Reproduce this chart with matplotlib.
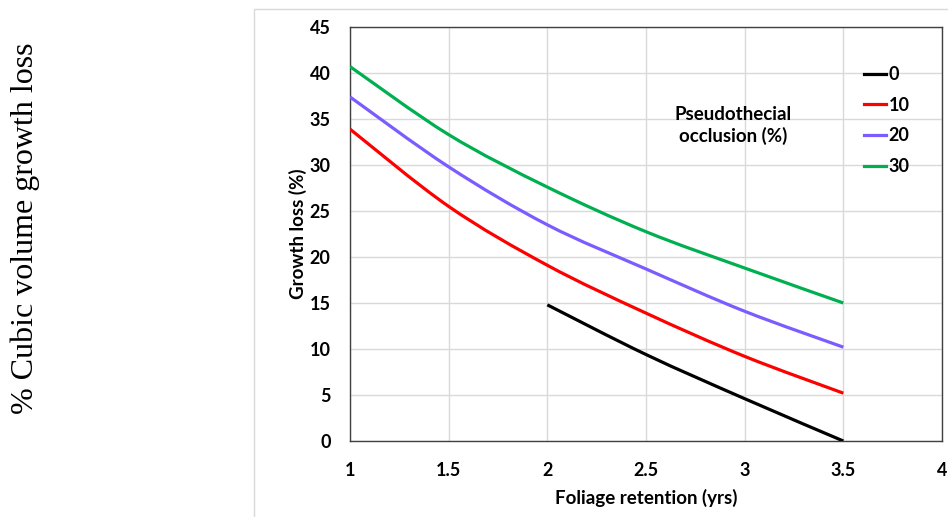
import numpy as np
import matplotlib
matplotlib.use("Agg")
import matplotlib.pyplot as plt
from matplotlib.path import Path
from matplotlib.patches import PathPatch, Rectangle
from matplotlib.lines import Line2D

# Foliage retention (years) and growth loss (%) by pseudothecial occlusion level
retention = [1.0, 1.5, 2.0, 2.5, 3.0, 3.5]
retention_0 = [2.0, 2.5, 3.0, 3.5]
loss_0 = [14.8, 9.4, 4.6, 0.0]
loss_10 = [33.9, 25.5, 19.1, 13.9, 9.2, 5.2]
loss_20 = [37.4, 29.8, 23.5, 18.7, 14.1, 10.2]
loss_30 = [40.7, 33.3, 27.6, 22.75, 18.8, 15.0]

series = [
    ("0", retention_0, loss_0, "#000000"),
    ("10", retention, loss_10, "#ff0000"),
    ("20", retention, loss_20, "#7b5cff"),
    ("30", retention, loss_30, "#00b050"),
]

x_ticks = [1, 1.5, 2, 2.5, 3, 3.5, 4]
x_ticklabels = ["1", "1.5", "2", "2.5", "3", "3.5", "4"]
y_ticks = list(range(0, 50, 5))

SANS = "Lato"
TICK_SIZE = 13
LABEL_SIZE = 13.5


def smooth_path(xs, ys):
    """Cubic Bezier path through the points (Catmull-Rom style smoothing)."""
    pts = np.column_stack([xs, ys]).astype(float)
    n = len(pts)
    verts = [pts[0]]
    codes = [Path.MOVETO]
    for i in range(n - 1):
        p0 = pts[i - 1] if i > 0 else pts[i]
        p1 = pts[i]
        p2 = pts[i + 1]
        p3 = pts[i + 2] if i + 2 < n else pts[i + 1]
        c1 = p1 + (p2 - p0) / 6.0
        c2 = p2 - (p3 - p1) / 6.0
        verts += [c1, c2, p2]
        codes += [Path.CURVE4] * 3
    return Path(verts, codes)


fig = plt.figure(figsize=(9.48, 5.17), dpi=100)
fig.patch.set_facecolor("white")

# light frame around the chart area
frame = Rectangle((254 / 948, -0.1), 1.0, 1 - 9 / 517 + 0.1,
                  transform=fig.transFigure, fill=False,
                  edgecolor="#d9d9d9", linewidth=1.0)
fig.add_artist(frame)

ax = fig.add_axes([350 / 948, 1 - 441 / 517, (942 - 350) / 948, (441 - 27) / 517])

for label, xs, ys, color in series:
    patch = PathPatch(smooth_path(xs, ys), facecolor="none", edgecolor=color,
                      linewidth=2.3, capstyle="butt", joinstyle="round", zorder=3)
    ax.add_patch(patch)

ax.set_xlim(1, 4)
ax.set_ylim(0, 45)
ax.set_xticks(x_ticks)
ax.set_xticklabels(x_ticklabels)
ax.set_yticks(y_ticks)
ax.grid(True, color="#d9d9d9", linewidth=1.0)
ax.set_axisbelow(True)
ax.tick_params(axis="y", length=0, pad=14)
ax.tick_params(axis="x", length=0, pad=15)
for lab in ax.get_xticklabels() + ax.get_yticklabels():
    lab.set_fontfamily(SANS)
    lab.set_fontweight("bold")
    lab.set_fontsize(TICK_SIZE)
for sp in ax.spines.values():
    sp.set_color("#404040")
    sp.set_linewidth(1.0)

ax.set_xlabel("Foliage retention (yrs)", fontfamily=SANS, fontweight="bold",
              fontsize=LABEL_SIZE, labelpad=7)
ax.set_ylabel("Growth loss (%)", fontfamily=SANS, fontweight="bold",
              fontsize=LABEL_SIZE, labelpad=2)

ax.text((733 - 350) / 592, 1 - (125.5 - 27) / 414, "Pseudothecial\nocclusion (%)",
        transform=ax.transAxes, ha="center", va="center", fontfamily=SANS,
        fontweight="bold", fontsize=LABEL_SIZE, linespacing=1.3)

handles = [Line2D([0], [0], color=c, linewidth=2.3) for _, _, _, c in series]
labels = [lab for lab, _, _, _ in series]
leg = ax.legend(handles, labels, loc="upper left",
                bbox_to_anchor=((857 - 350) / 592, 1 - (59 - 27) / 414),
                frameon=False, handlelength=1.2, handletextpad=0.15,
                labelspacing=0.75, borderaxespad=0,
                prop={"family": SANS, "weight": "bold", "size": TICK_SIZE})

fig.text(25 / 948, 1 - 228 / 517, "% Cubic volume growth loss", rotation=90,
         ha="center", va="center", fontfamily="Liberation Serif", fontsize=23)

fig.savefig("out.png", dpi=100)
